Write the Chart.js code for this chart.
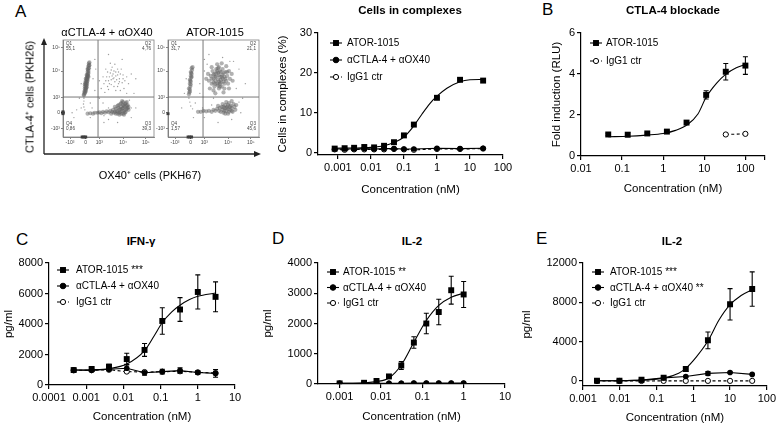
<!DOCTYPE html>
<html>
<head>
<meta charset="utf-8">
<script src="https://cdn.jsdelivr.net/npm/chart.js@4.4.1/dist/chart.umd.min.js"></script>
<style>
  html, body { margin: 0; padding: 0; background: #fff; }
  #fig { position: relative; width: 778px; height: 428px; overflow: hidden; font-family: "Liberation Sans", Arial, sans-serif; color: #000; }
  #fig canvas { position: absolute; }
  #fig svg { position: absolute; left: 0; top: 0; }
  .lbl { position: absolute; white-space: nowrap; line-height: 1; }
  .letter { font-size: 17px; }
  .ttl { font-size: 11.5px; font-weight: bold; transform: translate(-50%, -50%); }
  .txt { font-size: 11px; transform: translate(-50%, -50%); }
  .vtxt { font-size: 11px; transform: translate(-50%, -50%) rotate(-90deg); will-change: transform; background: #fff; }
</style>
</head>
<body>
<div id="fig">
  <svg width="778" height="428">
    <g stroke="#222" stroke-width="1.3" fill="#222">
      <line x1="44" y1="154" x2="44" y2="43" />
      <line x1="44" y1="154" x2="255" y2="154" />
      <polygon points="44,38 41,45 47,45" stroke="none" />
      <polygon points="261,154 254,151 254,157" stroke="none" />
    </g>
  </svg>

  <canvas id="flowL" width="115" height="114" style="left:44px;top:36px"></canvas>
  <canvas id="flowR" width="115" height="114" style="left:149px;top:36px"></canvas>
  <canvas id="chartA" width="266" height="180" style="left:262px;top:20px"></canvas>
  <canvas id="chartB" width="248" height="180" style="left:530px;top:20px"></canvas>
  <canvas id="chartC" width="258" height="178" style="left:0px;top:250px"></canvas>
  <canvas id="chartD" width="262" height="178" style="left:260px;top:250px"></canvas>
  <canvas id="chartE" width="258" height="178" style="left:520px;top:250px"></canvas>

  <div class="lbl letter" style="left:15px;top:3px">A</div>
  <div class="lbl letter" style="left:542px;top:1px">B</div>
  <div class="lbl letter" style="left:16px;top:231px">C</div>
  <div class="lbl letter" style="left:272px;top:230px">D</div>
  <div class="lbl letter" style="left:536px;top:230px">E</div>

  <div class="lbl txt" style="left:107px;top:32px">αCTLA-4 + αOX40</div>
  <div class="lbl txt" style="left:215px;top:32px">ATOR-1015</div>
  <div class="lbl vtxt" style="left:30px;top:97px">CTLA-4⁺ cells (PKH26)</div>
  <div class="lbl txt" style="left:150px;top:175px">OX40⁺ cells (PKH67)</div>

  <div class="lbl ttl" style="left:410px;top:11px">Cells in complexes</div>
  <div class="lbl ttl" style="left:673px;top:11px">CTLA-4 blockade</div>
  <div class="lbl ttl" style="left:141px;top:242px">IFN-γ</div>
  <div class="lbl ttl" style="left:412px;top:242px">IL-2</div>
  <div class="lbl ttl" style="left:672px;top:242px">IL-2</div>
</div>

<script>
// ---------- data ----------
// panel A, cells in complexes (%)
const concA = [0.0008, 0.0016, 0.0031, 0.0063, 0.0125, 0.025, 0.05, 0.1, 0.2, 1, 5, 25];
const atorA = [1.1, 1.2, 1.3, 1.5, 1.4, 1.8, 2.7, 4.4, 7.1, 13.8, 18.3, 18.1];
const comboA = [1.0, 1.0, 1.0, 1.1, 1.0, 1.1, 1.1, 1.0, 1.0, 1.2, 1.1, 1.2];
const iggA = [0.9, 0.8, 0.9, 0.9, 0.9, 0.9, 1.0, 0.9, 0.8, 1.0, 1.0, 1.1];
const fitAx = [0.0008, 0.003, 0.01, 0.025, 0.05, 0.1, 0.2, 0.35, 0.6, 1, 2, 5, 10, 25];
const fitAy = [1.2, 1.25, 1.4, 1.8, 2.6, 4.0, 6.8, 9.7, 12.3, 14.2, 16.2, 17.8, 18.3, 18.4];

// panel B, CTLA-4 blockade (fold induction)
const concB = [0.046, 0.137, 0.41, 1.23, 3.7, 11.1, 33.3, 100];
const atorB = [1.05, 1.04, 1.1, 1.19, 1.63, 2.98, 4.11, 4.41];
const atorBErr = [0.05, 0.1, 0.04, 0.05, 0.05, 0.2, 0.4, 0.43];
const concBIgg = [33.3, 100];
const iggB = [1.05, 1.08];
const fitBx = [0.046, 0.14, 0.4, 1, 2, 4, 7, 11, 20, 33, 60, 100];
const fitBy = [0.94, 0.96, 1.02, 1.1, 1.25, 1.55, 2.05, 2.85, 3.55, 3.98, 4.3, 4.47];

// panel C, IFN-gamma (pg/ml)
const concC = [0.00046, 0.0014, 0.0041, 0.0123, 0.037, 0.111, 0.333, 1, 3];
const atorC = [980, 1050, 1200, 1700, 2300, 4200, 4950, 6100, 5780];
const atorCErr = [100, 120, 150, 380, 420, 870, 780, 1120, 980];
const comboC = [980, 960, 1030, 1100, 800, 880, 940, 820, 760];
const comboCErr = [80, 90, 100, 250, 150, 150, 180, 120, 250];
const iggC = [960, 970, 1000, 880, 850, 870, 900, 830, 780];
const fitCx = [0.00046, 0.0014, 0.0041, 0.0123, 0.037, 0.07, 0.111, 0.2, 0.333, 0.6, 1, 3];
const fitCy = [985, 1000, 1070, 1370, 2250, 3300, 4100, 4800, 5230, 5600, 5820, 6030];

// panel D, IL-2 (pg/ml)
const concD = [0.001, 0.0039, 0.0078, 0.0156, 0.031, 0.0625, 0.125, 0.25, 0.5, 1];
const atorD = [20, 40, 100, 250, 610, 1370, 2000, 2380, 3100, 2960];
const atorDErr = [10, 15, 50, 40, 130, 190, 340, 420, 460, 430];
const comboD = [20, 25, 25, 25, 25, 30, 30, 30, 30, 30];
const iggD = [15, 15, 15, 15, 15, 15, 15, 15, 15, 15];
const fitDx = [0.001, 0.0039, 0.0078, 0.0156, 0.031, 0.0625, 0.125, 0.25, 0.5, 1];
const fitDy = [20, 40, 80, 200, 630, 1380, 2100, 2600, 2870, 3000];

// panel E, IL-2 (pg/ml)
const concE = [0.0024, 0.0098, 0.039, 0.156, 0.625, 2.5, 10, 40];
const atorE = [30, 30, 140, 340, 1220, 4140, 7800, 9350];
const atorEErr = [20, 20, 40, 60, 250, 850, 1600, 1750];
const comboE = [30, 40, 100, 330, 460, 780, 870, 680];
const comboEErr = [10, 10, 20, 40, 60, 200, 80, 60];
const iggE = [10, 10, 10, 20, 20, 20, 20, 20];
const fitEx = [0.0024, 0.0098, 0.039, 0.156, 0.4, 0.625, 1.2, 2.5, 5, 10, 20, 40];
const fitEy = [30, 40, 100, 300, 800, 1290, 2440, 4070, 6200, 7760, 8700, 9290];

// tick values and labels
const xTicksA = [0.001, 0.01, 0.1, 1, 10, 100];
const xLabelsA = ['0.001', '0.01', '0.1', '1', '10', '100'];
const yTicksA = [0, 10, 20, 30];
const xTicksB = [0.01, 0.1, 1, 10, 100, 300];
const xLabelsB = ['0.01', '0.1', '1', '10', '100', ''];
const yTicksB = [0, 2, 4, 6];
const xTicksC = [0.0001, 0.001, 0.01, 0.1, 1, 10];
const xLabelsC = ['0.0001', '0.001', '0.01', '0.1', '1', '10'];
const yTicksC = [0, 2000, 4000, 6000, 8000];
const xTicksD = [0.001, 0.01, 0.1, 1, 10];
const xLabelsD = ['0.001', '0.01', '0.1', '1', '10'];
const yTicksD = [0, 1000, 2000, 3000, 4000];
const xTicksE = [0.001, 0.01, 0.1, 1, 10, 100];
const xLabelsE = ['0.001', '0.01', '0.1', '1', '10', '100'];
const yTicksE = [0, 4000, 8000, 12000];

// flow plots, in display channel units (0-100) of the biexponential axes
const flowTicksX = [7.7, 25, 40, 66, 91];
const flowTicksY = [9, 25, 41, 68, 92];
const flowTickLabels = ['-10³', '0', '10³', '10⁴', '10⁵'];
const flowGate = [38.5, 41.2];
const quadL = [['Q1', '55,1'], ['Q2', '4,76'], ['Q3', '39,3'], ['Q4', '0,86']];
const quadR = [['Q1', '31,7'], ['Q2', '21,1'], ['Q3', '45,6'], ['Q4', '1,57']];

const flowL_q1 = [[23,43],[24,45],[23.5,47],[24.5,48],[25,50],[24,52],[25.5,53],[25,55],[26,56],[25,58],[26.5,59],[26,61],[27,62],[26,64],[27.5,65],[27,67],[28,68],[27,70],[28.5,71],[28,73],[29,74],[28.5,76],[24,50],[26,57],[27,60],[25,54],[28,66],[26.5,63],[29,77],[23,44],[25,47],[27.5,69],[26,51],[24.5,56],
  [24,46],[25,49],[25.5,51],[26,53],[26.5,55],[27,58],[27,64],[28,71],[28.5,74],[26,60],[25,60],[27.5,63],[24,54],[28,62]];
const flowL_q3 = [[27,24],[30,24.5],[33,24],[35,25],[38,25],[40,25.5],[42,24.5],[44,26],[46,25],[48,26.5],[50,25.5],[52,27],[54,26],[55,28],[57,26],[58,29],[59,27],[60,24],[61,30],[62,28],[63,26],[64,31],[65,29],[66,33],[67,27],[68,31],[69,35],[70,29],[71,33],[66,24],[62,23],[64,35],[60,32],[57,31],[68,25],[72,31],[70,36],[65,37],
  [60,26],[62,25],[63,29],[64,24],[65,27],[66,30],[67,32],[68,34],[69,28],[70,32],[71,30],[67,23],[69,26],[72,28],[63,34],[66,36],[61,33],[58,24],[56,25],[53,24]];
const flowL_sparse = [[45,55],[48,62],[50,58],[52,66],[53,54],[55,60],[56,68],[57,57],[58,63],[60,52],[60,70],[62,60],[63,65],[65,56],[47,70],[50,49],[54,72],[58,48],[66,64],[68,58],[44,62],[51,62],[55,65],[59,59],[61,55],[64,70],[70,62],[42,50],[46,46],[52,76],[57,75],[67,50],[72,55],[49,67],[61,67],[56,52],[53,59],[63,48],[40,58],[75,65],
  [23,40],[23,37],[22.5,34],[23,31],[24,28],[30,35],[32,30],[35,48],[20,30],[15,28],[33,60],[36,70],[10,25],[30,20],[45,15],[50,18],[60,15],[75,20],[80,30],[78,45],[80,60],[40,40],[44,35],[70,45],[20,55],[18,40],[35,80],[50,85],[65,80],[12,20],[75,30],[73,38],[50,30],[45,22],
  [47,58],[51,55],[54,63],[58,67],[62,57],[49,52],[56,61],[60,64],[53,69],[66,60]];
const flowL_pile = [[0,24],[0,25],[0,26],[21,0],[23,0],[25,0]];

const flowR_q1 = [[23,44],[24,47],[23,50],[24.5,52],[24,55],[25,57],[24,59],[25.5,61],[25,63],[26,65],[25,67],[26.5,69],[26,71],[24,49],[25,54],[24.5,58],[26,62],[25.5,66],[23.5,46],[27,72]];
const flowR_q2 = [[45,58],[47,63],[48,55],[49,68],[50,60],[51,52],[51,65],[52,58],[53,70],[53,62],[54,55],[55,66],[55,59],[56,50],[56,72],[57,62],[57,55],[58,67],[58,59],[59,52],[60,64],[60,70],[61,57],[62,62],[62,50],[63,67],[64,58],[65,63],[66,55],[67,68],[48,72],[50,48],[54,75],[59,76],[64,73],[68,60],[70,65],[44,65],[46,50],[52,45],[61,46],[67,50],[71,58],[42,60],[55,53],[57,68],[50,56],[53,66],[59,62],[62,55],
  [52,62],[56,64],[58,56],[54,68],[60,60],[56,57],[63,60],[50,64],[61,66],[57,52],[55,71],[65,67],[48,60],[52,55]];
const flowR_q3 = [[33,26],[36,26],[39,27],[42,26.5],[45,27],[48,26],[50,28],[52,27],[54,29],[56,27],[57,30],[58,26],[59,31],[60,28],[61,25],[62,30],[63,33],[64,27],[65,31],[66,29],[67,35],[68,28],[69,32],[70,30],[71,26],[72,34],[73,31],[74,28],[75,33],[64,36],[60,34],[66,24],[70,37],[55,32],
  [62,27],[64,30],[66,33],[68,31],[70,27],[63,24],[67,26],[61,31]];
const flowR_sparse = [[23,40],[24,36],[25,32],[27,29],[30,35],[35,45],[28,20],[40,20],[55,15],[70,18],[80,25],[82,40],[78,70],[40,80],[45,85],[60,82],[72,78],[35,55],[15,30],[18,45],[20,60],[38,30],[85,55],[50,40],[40,68],[75,50],[43,75],[68,78],[78,36],[48,33]];
const flowR_pile = [[0,24],[22,0],[24,0],[26,0]];

// ---------- helpers ----------
Chart.defaults.font.family = '"Liberation Sans", Arial, sans-serif';
Chart.defaults.color = '#000';
Chart.defaults.animation = false;

const FONT = '"Liberation Sans", Arial, sans-serif';

function xy(xs, ys) {
  return xs.map((x, i) => ({ x: x, y: ys[i] }));
}
function pairs(p) {
  return p.map(v => ({ x: v[0], y: v[1] }));
}

const errorBars = {
  id: 'errorBars',
  beforeDatasetsDraw(chart, args, opts) {
    const ctx = chart.ctx;
    const ys = chart.scales.y;
    ctx.save();
    ctx.strokeStyle = '#000';
    ctx.lineWidth = 1.1;
    (opts.bars || []).forEach(b => {
      const meta = chart.getDatasetMeta(b.dataset);
      const data = chart.data.datasets[b.dataset].data;
      meta.data.forEach((pt, i) => {
        const v = data[i].y, e = b.errors[i];
        const y1 = ys.getPixelForValue(v + e);
        const y2 = ys.getPixelForValue(v - e);
        ctx.beginPath();
        ctx.moveTo(pt.x, y1); ctx.lineTo(pt.x, y2);
        ctx.moveTo(pt.x - 2.5, y1); ctx.lineTo(pt.x + 2.5, y1);
        ctx.moveTo(pt.x - 2.5, y2); ctx.lineTo(pt.x + 2.5, y2);
        ctx.stroke();
      });
    });
    ctx.restore();
  }
};

// legend with line + marker like the Prism one
const panelLegend = {
  id: 'panelLegend',
  afterDraw(chart, args, opts) {
    if (!opts.items) return;
    const ctx = chart.ctx, a = chart.chartArea;
    ctx.save();
    opts.items.forEach((it, i) => {
      const ds = chart.data.datasets[it.dataset];
      const y = a.top + opts.top + i * opts.gap;
      const x0 = a.left + opts.left;
      ctx.strokeStyle = '#000';
      ctx.lineWidth = 1.1;
      ctx.setLineDash(ds.borderDash || []);
      ctx.beginPath();
      ctx.moveTo(x0, y); ctx.lineTo(x0 + 12, y);
      ctx.stroke();
      ctx.setLineDash([]);
      const cx = x0 + 6;
      if (ds.pointStyle === 'rect') {
        const h = ds.pointRadius * Math.SQRT1_2;
        ctx.fillStyle = '#000';
        ctx.fillRect(cx - h, y - h, 2 * h, 2 * h);
      } else {
        ctx.beginPath();
        ctx.arc(cx, y, ds.pointRadius, 0, Math.PI * 2);
        ctx.fillStyle = ds.pointBackgroundColor;
        ctx.fill();
        ctx.lineWidth = 1;
        ctx.stroke();
      }
      ctx.fillStyle = '#000';
      ctx.font = '10px ' + FONT;
      ctx.textBaseline = 'middle';
      ctx.textAlign = 'left';
      ctx.fillText(it.text, a.left + opts.textX, y + 0.5);
    });
    ctx.restore();
  }
};

const flowFrame = {
  id: 'flowFrame',
  afterDatasetsDraw(chart, args, opts) {
    const ctx = chart.ctx, a = chart.chartArea;
    const gx = chart.scales.x.getPixelForValue(opts.gate[0]);
    const gy = chart.scales.y.getPixelForValue(opts.gate[1]);
    ctx.save();
    ctx.strokeStyle = '#555';
    ctx.lineWidth = 0.8;
    ctx.beginPath();
    ctx.moveTo(gx, a.top); ctx.lineTo(gx, a.bottom);
    ctx.moveTo(a.left, gy); ctx.lineTo(a.right, gy);
    ctx.stroke();
    ctx.strokeStyle = '#808080';
    ctx.strokeRect(a.left, a.top, a.right - a.left, a.bottom - a.top);
    ctx.fillStyle = '#444';
    ctx.font = '4.6px ' + FONT;
    ctx.textBaseline = 'middle';
    const q = opts.quads;
    ctx.textAlign = 'left';
    ctx.fillText(q[0][0], a.left + 3, a.top + 4);
    ctx.fillText(q[0][1], a.left + 3, a.top + 9);
    ctx.fillText(q[3][0], a.left + 3, a.bottom - 13);
    ctx.fillText(q[3][1], a.left + 3, a.bottom - 8);
    ctx.textAlign = 'right';
    ctx.fillText(q[1][0], a.right - 3, a.top + 4);
    ctx.fillText(q[1][1], a.right - 3, a.top + 9);
    ctx.fillText(q[2][0], a.right - 3, a.bottom - 13);
    ctx.fillText(q[2][1], a.right - 3, a.bottom - 8);
    ctx.restore();
  }
};

function logAxis(min, max, ticks, labels, height, titlePad) {
  return {
    type: 'logarithmic', min: min, max: max,
    afterBuildTicks: s => { s.ticks = ticks.map(v => ({ value: v })); },
    afterFit: s => { s.height = height; },
    ticks: { font: { size: 11 }, padding: 2, maxRotation: 0, autoSkip: false,
             callback: (v, i) => labels[i] },
    grid: { drawOnChartArea: false, drawTicks: true, tickLength: 4, color: '#000', lineWidth: 1.2 },
    border: { display: true, color: '#000', width: 1.2 },
    title: { display: true, text: 'Concentration (nM)', font: { size: 11.5 }, padding: { top: 0, bottom: titlePad } }
  };
}

function linAxis(min, max, ticks, text, width, titlePad) {
  return {
    type: 'linear', min: min, max: max,
    afterBuildTicks: s => { s.ticks = ticks.map(v => ({ value: v })); },
    afterFit: s => { s.width = width; },
    ticks: { font: { size: 11 }, padding: 2, callback: v => String(v) },
    grid: { drawOnChartArea: false, drawTicks: true, tickLength: 4, color: '#000', lineWidth: 1.2 },
    border: { display: true, color: '#000', width: 1.2 },
    title: { display: true, text: text, font: { size: 11.5 }, padding: { top: titlePad, bottom: 0 } }
  };
}

const atorStyle = { pointStyle: 'rect', pointRadius: 4.2, pointBackgroundColor: '#000', pointBorderColor: '#000', pointBorderWidth: 0, showLine: false };
const comboStyle = { pointStyle: 'circle', pointRadius: 2.8, pointBackgroundColor: '#000', pointBorderColor: '#000', pointBorderWidth: 0, borderColor: '#000', borderWidth: 1.1, showLine: true };
const iggStyle = { pointStyle: 'circle', pointRadius: 2.6, pointBackgroundColor: '#fff', pointBorderColor: '#000', pointBorderWidth: 1, borderColor: '#000', borderWidth: 1.1, borderDash: [3, 2.5], showLine: true };
const fitStyle = { pointRadius: 0, borderColor: '#000', borderWidth: 1.1, showLine: true, cubicInterpolationMode: 'monotone' };

function curveChart(id, datasets, x, y, pad, bars, legend) {
  return new Chart(document.getElementById(id), {
    type: 'scatter',
    data: { datasets: datasets },
    options: {
      responsive: false,
      devicePixelRatio: 1,
      layout: { padding: { top: pad.top, right: pad.right, bottom: 0, left: 0 } },
      scales: { x: x, y: y },
      plugins: {
        legend: { display: false },
        tooltip: { enabled: false },
        errorBars: { bars: bars },
        panelLegend: legend
      }
    },
    plugins: [errorBars, panelLegend]
  });
}

// ---------- panel A: cells in complexes ----------
curveChart('chartA', [
    Object.assign({ data: xy(concA, atorA) }, atorStyle),
    Object.assign({ data: xy(concA, comboA) }, comboStyle),
    Object.assign({ data: xy(concA, iggA) }, iggStyle),
    Object.assign({ data: xy(fitAx, fitAy) }, fitStyle)
  ],
  logAxis(0.00025, 100, xTicksA, xLabelsA, 45, 3),
  linAxis(-0.5, 30, yTicksA, 'Cells in complexes (%)', 56, 14),
  { top: 13, right: 25 }, [],
  { left: 12, top: 10, gap: 17, textX: 29, items: [
    { dataset: 0, text: 'ATOR-1015' },
    { dataset: 1, text: 'αCTLA-4 + αOX40' },
    { dataset: 2, text: 'IgG1 ctr' }] });

// ---------- panel B: CTLA-4 blockade ----------
curveChart('chartB', [
    Object.assign({ data: xy(concB, atorB) }, atorStyle),
    Object.assign({ data: xy(concBIgg, iggB) }, iggStyle),
    Object.assign({ data: xy(fitBx, fitBy) }, fitStyle)
  ],
  logAxis(0.01, 300, xTicksB, xLabelsB, 44, 4),
  linAxis(0, 6, yTicksB, 'Fold induction (RLU)', 51, 20),
  { top: 13, right: 13 }, [{ dataset: 0, errors: atorBErr }],
  { left: 9, top: 10, gap: 18, textX: 25, items: [
    { dataset: 0, text: 'ATOR-1015' },
    { dataset: 1, text: 'IgG1 ctr' }] });

// ---------- panel C: IFN-gamma ----------
curveChart('chartC', [
    Object.assign({ data: xy(concC, atorC) }, atorStyle),
    Object.assign({ data: xy(concC, comboC) }, comboStyle),
    Object.assign({ data: xy(concC, iggC) }, iggStyle),
    Object.assign({ data: xy(fitCx, fitCy) }, fitStyle)
  ],
  logAxis(0.0001, 10, xTicksC, xLabelsC, 43, 4),
  linAxis(0, 8000, yTicksC, 'pg/ml', 49, 2),
  { top: 13, right: 23 },
  [{ dataset: 0, errors: atorCErr }, { dataset: 1, errors: comboCErr }],
  { left: 8, top: 7, gap: 16, textX: 27, items: [
    { dataset: 0, text: 'ATOR-1015 ***' },
    { dataset: 1, text: 'αCTLA-4 + αOX40' },
    { dataset: 2, text: 'IgG1 ctr' }] });

// ---------- panel D: IL-2 ----------
curveChart('chartD', [
    Object.assign({ data: xy(concD, atorD) }, atorStyle),
    Object.assign({ data: xy(concD, comboD) }, comboStyle),
    Object.assign({ data: xy(concD, iggD) }, iggStyle),
    Object.assign({ data: xy(fitDx, fitDy) }, fitStyle)
  ],
  logAxis(0.000316, 10, xTicksD, xLabelsD, 44, 4),
  linAxis(0, 4000, yTicksD, 'pg/ml', 58, 1),
  { top: 13, right: 17 }, [{ dataset: 0, errors: atorDErr }],
  { left: 9, top: 9, gap: 15.5, textX: 25, items: [
    { dataset: 0, text: 'ATOR-1015 **' },
    { dataset: 1, text: 'αCTLA-4 + αOX40' },
    { dataset: 2, text: 'IgG1 ctr' }] });

// ---------- panel E: IL-2 ----------
curveChart('chartE', [
    Object.assign({ data: xy(concE, atorE) }, atorStyle),
    Object.assign({ data: xy(concE, comboE) }, comboStyle),
    Object.assign({ data: xy(concE, iggE) }, iggStyle),
    Object.assign({ data: xy(fitEx, fitEy) }, fitStyle)
  ],
  logAxis(0.001, 100, xTicksE, xLabelsE, 42, 3),
  linAxis(-500, 12000, yTicksE, 'pg/ml', 63, 0),
  { top: 13, right: 11 },
  [{ dataset: 0, errors: atorEErr }, { dataset: 1, errors: comboEErr }],
  { left: 9, top: 9, gap: 15.5, textX: 27, items: [
    { dataset: 0, text: 'ATOR-1015 ***' },
    { dataset: 1, text: 'αCTLA-4 + αOX40 **' },
    { dataset: 2, text: 'IgG1 ctr' }] });

// ---------- flow cytometry dot plots ----------
function flowAxis(ticks, isX) {
  const ax = {
    type: 'linear', min: 0, max: 100,
    afterBuildTicks: s => { s.ticks = ticks.map(v => ({ value: v })); },
    ticks: { font: { size: 5 }, color: '#444', padding: 1, maxRotation: 0, autoSkip: false,
             callback: (v, i) => flowTickLabels[i] },
    grid: { drawOnChartArea: false, drawTicks: true, tickLength: 2, color: '#666', lineWidth: 0.8 },
    border: { display: true, color: '#808080', width: 1 }
  };
  if (isX) ax.afterFit = s => { s.height = 13; };
  else ax.afterFit = s => { s.width = 19; };
  return ax;
}

function flowChart(id, dense, sparse, pile, quads) {
  return new Chart(document.getElementById(id), {
    type: 'scatter',
    data: { datasets: [
      { data: pairs(pile), pointStyle: 'rect', pointRadius: 2, pointBackgroundColor: '#111', pointBorderWidth: 0, clip: 4 },
      { data: pairs(dense), pointRadius: 2.1, pointBackgroundColor: 'rgba(100,100,100,0.5)', pointBorderWidth: 0 },
      { data: pairs(sparse), pointRadius: 0.7, pointBackgroundColor: 'rgba(115,115,115,0.7)', pointBorderWidth: 0 }
    ] },
    options: {
      responsive: false,
      devicePixelRatio: 1,
      layout: { padding: { top: 4, right: 5, bottom: 0, left: 0 } },
      scales: { x: flowAxis(flowTicksX, true), y: flowAxis(flowTicksY, false) },
      plugins: {
        legend: { display: false },
        tooltip: { enabled: false },
        flowFrame: { gate: flowGate, quads: quads }
      }
    },
    plugins: [flowFrame]
  });
}

flowChart('flowL', flowL_q1.concat(flowL_q3), flowL_sparse, flowL_pile, quadL);
flowChart('flowR', flowR_q1.concat(flowR_q2, flowR_q3), flowR_sparse, flowR_pile, quadR);
</script>
</body>
</html>
